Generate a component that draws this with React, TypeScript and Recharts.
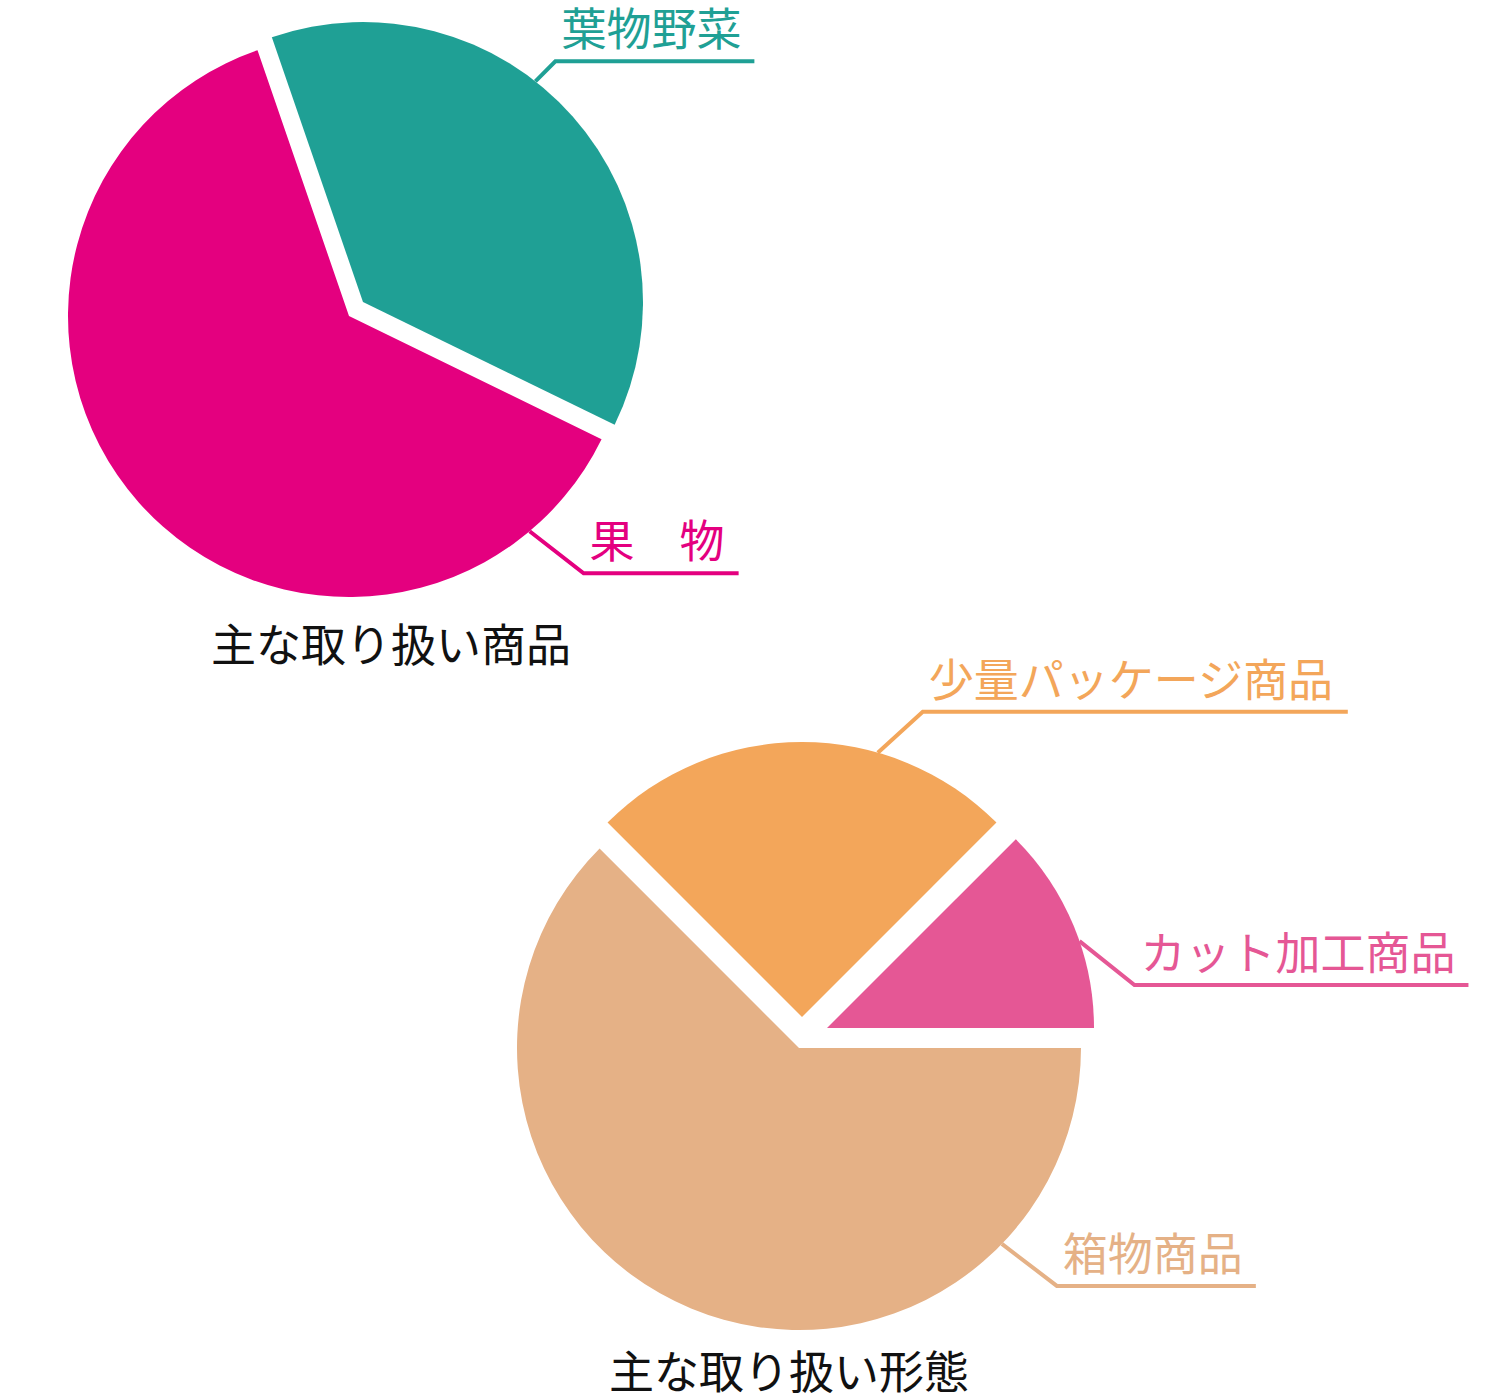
import React from "react";
import { PieChart, Pie, Cell, Customized } from "recharts";

const productNames = ["葉物野菜", "果　物"];
const productShares = [3, 5];
const productColors = ["#1FA095", "#E4007F"];

const formatNames = ["カット加工商品", "少量パッケージ商品", "箱物商品"];
const formatShares = [1, 2, 5];
const formatColors = ["#E55795", "#F3A65A", "#E5B186"];

const titles = ["主な取り扱い商品", "主な取り扱い形態"];

const FONT = '"Noto Sans CJK JP", "Noto Sans", sans-serif';

// Every slice gets its own Pie so it can be pulled out of the circle.
// at = angle on the rim where the callout starts, ex/ey = elbow offset, len = underline length
const productLayout = [
  { cx: 363, cy: 302, r: 280, at: 52, ex: 20, ey: -20, len: 199 },
  { cx: 349, cy: 316, r: 281, at: -50, ex: 54, ey: 42, len: 155 },
];
const formatLayout = [
  { cx: 827, cy: 1028, r: 267, at: 19, ex: 55, ey: 44, len: 334 },
  { cx: 802, cy: 1017, r: 275, at: 74, ex: 45, ey: -41, len: 425 },
  { cx: 799, cy: 1048, r: 282, at: -44, ex: 55, ey: 42, len: 199 },
];

type Layout = { cx: number; cy: number; r: number; at: number; ex: number; ey: number; len: number };

function Callout({ p, l, text, color }: { p: any; l: Layout; text: string; color: string }) {
  const rad = (l.at * Math.PI) / 180;
  const sx = p.cx + p.outerRadius * Math.cos(rad);
  const sy = p.cy - p.outerRadius * Math.sin(rad);
  const bx = sx + l.ex;
  const by = sy + l.ey;
  return (
    <g>
      <polyline
        points={`${sx},${sy} ${bx},${by} ${bx + l.len},${by}`}
        fill="none"
        stroke={color}
        strokeWidth={4}
      />
      <text x={bx + 6} y={by - 15} fill={color} fontSize={45} fontFamily={FONT}>
        {text}
      </text>
    </g>
  );
}

function slicePies(names: string[], shares: number[], colors: string[], layout: Layout[], startAngle: number, tag: string) {
  const data = names.map((name, i) => ({ name, value: shares[i] }));
  return layout.map((l, k) => (
    <Pie
      key={`${tag}-${k}`}
      data={data}
      dataKey="value"
      cx={l.cx}
      cy={l.cy}
      outerRadius={l.r}
      startAngle={startAngle}
      endAngle={startAngle + 360}
      stroke="none"
      labelLine={false}
      isAnimationActive={false}
      label={(p: any) =>
        p.index === k ? <Callout p={p} l={l} text={names[k]} color={colors[k]} /> : null
      }
    >
      {data.map((d, i) => (
        <Cell key={d.name} fill={i === k ? colors[i] : "transparent"} />
      ))}
    </Pie>
  ));
}

export default function App() {
  return (
    <div style={{ position: "absolute", left: 0, top: 0, background: "#fff" }}>
      <PieChart width={1500} height={1400} margin={{ top: 0, right: 0, bottom: 0, left: 0 }}>
        {slicePies(productNames, productShares, productColors, productLayout, -26, "product")}
        {slicePies(formatNames, formatShares, formatColors, formatLayout, 0, "format")}
        <Customized
          component={() => (
            <g fontFamily={FONT} fontSize={45} fill="#111">
              <text x={391} y={662} textAnchor="middle">{titles[0]}</text>
              <text x={789} y={1389} textAnchor="middle">{titles[1]}</text>
            </g>
          )}
        />
      </PieChart>
    </div>
  );
}
